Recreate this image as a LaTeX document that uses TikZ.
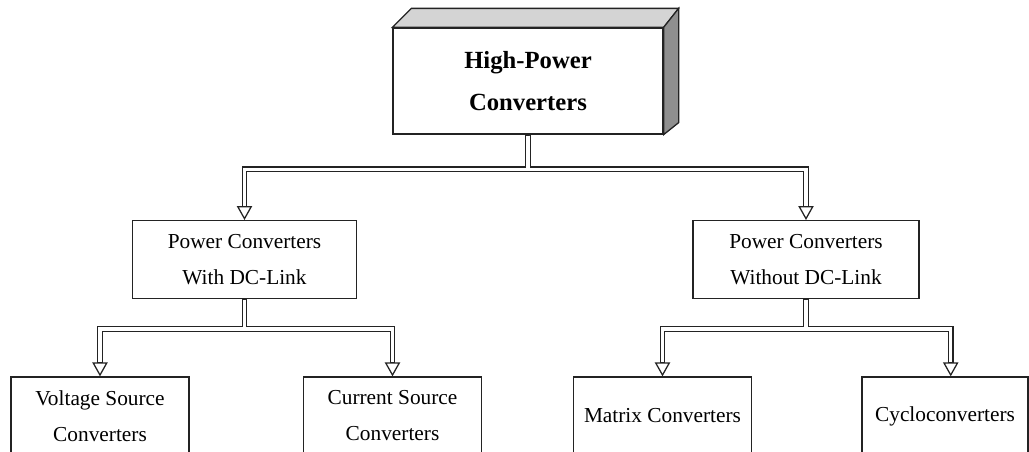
\documentclass[tikz,border=0pt]{standalone}
\usepackage{fontspec}
\setmainfont{Liberation Serif}
\usetikzlibrary{arrows.meta, calc}
\definecolor{inkgray}{RGB}{35,35,35}
\definecolor{lidgray}{RGB}{212,212,212}
\definecolor{sidegray}{RGB}{143,143,143}

\begin{document}
\begin{tikzpicture}[x=0.75pt, y=-0.75pt,
  box/.style={draw=inkgray, line width=0.95pt, fill=white, inner sep=0pt, align=center,
    minimum height=58.3pt, font=\fontsize{16}{27}\selectfont},
  pipe/.style={draw=inkgray, line width=4.2pt,
    -{Triangle[open, line width=0.95pt, length=10.5pt, width=11.5pt]}},
  pipecore/.style={draw=white, line width=2.3pt, shorten <=0.7pt, shorten >=10.5pt}]
  \useasboundingbox (0,0) rectangle (1029,451);
  \clip (0,0) rectangle (1029,451);
  \node[box, minimum width=202.5pt, minimum height=79.5pt,
    font=\fontsize{18.5}{32}\selectfont\bfseries] (hp) at (528,81) {High-Power\\Converters};
  \draw[inkgray, line width=0.95pt, fill=lidgray] (hp.north west) -- ++(19,-19)
    -- ([shift={(15,-19)}]hp.north east) -- (hp.north east) -- cycle;
  \draw[inkgray, line width=0.95pt, fill=sidegray] (hp.north east) -- ++(15,-19)
    -- ([shift={(15,-12)}]hp.south east) -- (hp.south east) -- cycle;
  \node[box, minimum width=168.3pt] (wdc) at (244.5,259.5) {Power Converters\\With DC-Link};
  \node[box, minimum width=169.5pt] (wodc) at (806,259.5) {Power Converters\\Without DC-Link};
  \node[box, minimum width=133.5pt, minimum height=58.5pt] (vsc) at (100,416) {Voltage Source\\Converters};
  \node[box, minimum width=133.8pt, minimum height=58.5pt] (csc) at (392.5,416) {Current Source\\Converters};
  \node[box, minimum width=133.8pt, minimum height=58.5pt] (mc) at (662.5,416) {Matrix Converters};
  \node[box, minimum width=124.5pt, minimum height=58.5pt] (cc) at (945,416) {Cycloconverters};
  \coordinate (j1) at ($(hp.south)+(0,34.5)$);
  \coordinate (j2) at ($(wdc.south)+(0,30)$);
  \coordinate (j3) at ($(wodc.south)+(0,30)$);
  \coordinate (cctop) at ([xshift=4.3pt]cc.north);
  \foreach \a/\j/\b in {hp/j1/wdc.north, hp/j1/wodc.north, wdc/j2/vsc.north,
      wdc/j2/csc.north, wodc/j3/mc.north, wodc/j3/cctop}
    \draw[pipe] (\a.south) -- (\j) -| (\b);
  \foreach \a/\j/\b in {hp/j1/wdc.north, hp/j1/wodc.north, wdc/j2/vsc.north,
      wdc/j2/csc.north, wodc/j3/mc.north, wodc/j3/cctop}
    \draw[pipecore] (\a.south) -- (\j) -| (\b);
\end{tikzpicture}
\end{document}
